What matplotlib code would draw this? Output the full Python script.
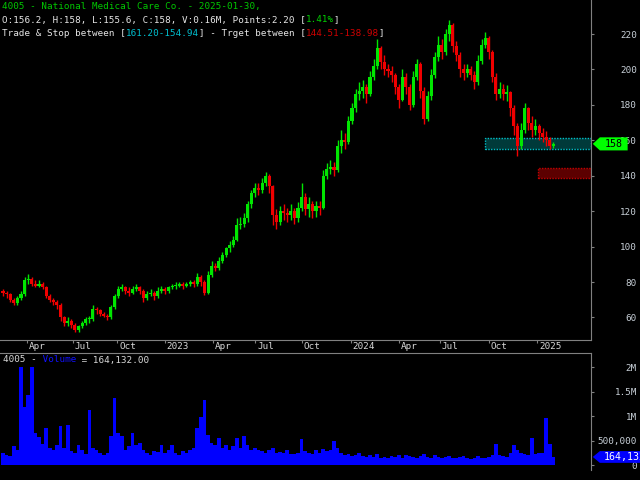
import matplotlib
matplotlib.use("Agg")
import matplotlib.pyplot as plt
from matplotlib.patches import Polygon, Rectangle
from matplotlib.transforms import blended_transform_factory

# weekly candles (4005 - National Medical Care Co.)
opens = [75, 74, 73, 70, 68, 71, 73, 81, 82, 79,
         78, 79, 77, 72, 70, 69, 67, 60, 57, 58,
         56, 53, 55, 57, 59, 59, 65, 64, 62, 61,
         60, 66, 72, 76, 77, 75, 74, 76, 77, 75,
         71, 73, 74, 72, 75, 76, 75, 77, 78, 78,
         79, 78, 79, 80, 79, 83, 80, 74, 84, 89,
         88, 92, 95, 99, 101, 104, 112, 113, 116, 124,
         130, 133, 132, 136, 140, 134, 118, 114, 120, 119,
         118, 120, 116, 122, 128, 121, 124, 120, 123, 122,
         140, 144, 145, 143, 157, 160, 159, 171, 178, 186,
         188, 190, 186, 196, 202, 212, 204, 200, 199, 197,
         190, 183, 196, 190, 180, 196, 203, 188, 172, 185,
         197, 207, 214, 210, 220, 225, 213, 208, 200, 198,
         200, 197, 193, 205, 214, 218, 210, 196, 186, 189,
         186, 187, 178, 168, 157, 166, 178, 170, 166, 168,
         164, 162, 160, 157]
highs = [76, 75, 74, 71, 72, 75, 83, 84.5, 83, 81,
         81, 80, 78, 73, 71, 70, 68, 61, 60, 59,
         57, 56, 58, 60, 61, 67, 66, 65, 63, 62,
         67, 73, 78, 79, 78, 77, 78, 79, 78, 76,
         75, 76, 75, 77, 78, 77, 78, 79, 80, 80,
         80, 80, 81, 81, 85, 84, 81, 86, 92, 91,
         94, 97, 100, 103, 106, 116, 117, 119, 126, 132,
         136, 136, 139, 142, 141, 135, 121, 123, 124, 122,
         124, 122, 125, 136, 130, 128, 126, 126, 126, 143,
         147, 149, 148, 160, 166, 164, 174, 181, 189, 193,
         194, 192, 199, 206, 217, 213, 208, 203, 202, 198,
         192, 200, 198, 192, 199, 206, 204, 190, 188, 200,
         210, 219, 217, 223, 228, 226, 216, 210, 203, 203,
         202, 199, 208, 217, 221, 219, 211, 198, 193, 192,
         191, 188, 180, 170, 170, 181, 179, 174, 172, 169,
         167, 165, 162, 159]
lows = [72, 71, 69, 67, 67, 70, 72, 79, 78, 77,
        77, 76, 71, 69, 67, 65, 58, 55, 55, 54,
        52, 52, 54, 56, 57, 58, 62, 61, 60, 58.5,
        59, 65, 71, 75, 73, 72, 73, 75, 73, 69,
        70, 72, 70, 71, 74, 73, 74, 76, 76, 77,
        76, 77, 78, 77, 78, 78, 72.5, 73, 83, 86,
        87, 91, 94, 97, 100, 103, 110, 111, 114, 122,
        128, 129, 130, 134, 130, 112, 110, 112, 115, 114,
        115, 113, 114, 120, 118, 117, 116, 117, 118, 121,
        138, 141, 140, 142, 153, 155, 158, 169, 176, 183,
        184, 181, 185, 194, 200, 200, 197, 196, 193, 186,
        178, 182, 186, 177, 179, 194, 184, 169, 171, 183,
        195, 205, 206, 208, 216, 210, 205, 196, 194, 196,
        194, 189, 191, 203, 212, 206, 193, 183, 184, 183,
        182, 174, 163, 151, 155, 164, 166, 162, 163, 160,
        159, 157, 155, 155.6]
closes = [74, 73, 70, 68, 71, 73, 81, 82, 79, 78,
          79, 77, 72, 70, 69, 67, 60, 57, 58, 56,
          53, 55, 57, 59, 59, 65, 64, 62, 61, 60,
          66, 72, 76, 77, 75, 74, 76, 77, 75, 71,
          73, 74, 72, 75, 76, 75, 77, 78, 78, 79,
          78, 79, 80, 79, 83, 80, 74, 84, 89, 88,
          92, 95, 99, 101, 104, 112, 113, 116, 124, 130,
          133, 132, 136, 140, 134, 118, 114, 120, 119, 118,
          120, 116, 122, 128, 121, 124, 120, 123, 122, 140,
          144, 145, 143, 157, 160, 159, 171, 178, 186, 188,
          190, 186, 196, 202, 212, 204, 200, 199, 197, 190,
          183, 196, 190, 180, 196, 203, 188, 172, 185, 197,
          207, 214, 210, 220, 225, 213, 208, 200, 198, 200,
          197, 193, 205, 214, 218, 210, 196, 186, 189, 186,
          187, 178, 168, 157, 166, 178, 170, 166, 168, 164,
          162, 160, 157, 158]
volumes_k = [250, 200, 180, 380, 300, 2000, 1190, 1430, 2000, 650,
             570, 420, 750, 350, 300, 400, 800, 350, 820, 280,
             250, 410, 300, 220, 1120, 350, 300, 250, 200, 250,
             600, 1370, 650, 600, 300, 380, 650, 400, 450, 300,
             250, 200, 280, 260, 410, 250, 300, 410, 250, 200,
             280, 250, 300, 350, 750, 980, 1330, 620, 450, 400,
             550, 350, 400, 300, 380, 560, 350, 600, 400, 300,
             350, 300, 280, 250, 300, 350, 250, 260, 240, 300,
             230, 220, 250, 530, 280, 240, 230, 300, 250, 330,
             280, 300, 500, 350, 250, 200, 220, 180, 200, 250,
             180, 160, 200, 170, 220, 150, 170, 140, 190, 160,
             200, 150, 210, 180, 160, 150, 190, 220, 170, 150,
             200, 160, 150, 170, 190, 150, 140, 160, 180, 150,
             130, 150, 180, 150, 140, 160, 200, 420, 200, 180,
             160, 250, 400, 300, 250, 220, 200, 560, 220, 250,
             250, 950, 420, 164.132]

# date axis labels (positions in candle index units)
date_ticks = [6.67, 19.37, 31.77, 44.94, 58.28, 70.04, 83.02, 96.64,
              110.06, 121.37, 134.99, 148.5]
date_labels = ["Apr", "Jul", "Oct", "2023", "Apr", "Jul", "Oct", "2024",
               "Apr", "Jul", "Oct", "2025"]
price_ticks = [60, 80, 100, 120, 140, 160, 180, 200, 220]
vol_ticks = [0, 500000, 1000000, 1500000, 2000000]
vol_labels = ["0", "500,000", "1M", "1.5M", "2M"]

last_price = 158
last_volume = 164132
trade_zone = (154.94, 161.20)
target_zone = (138.98, 144.51)
trade_start = 133.96
target_start = 148.7

UP = "#00e600"
DOWN = "#f00000"
GRID = "#808080"
LABEL = "#c8d0d8"
FS = 6.7

plt.rcParams["font.family"] = ["DejaVu Sans Mono"]

fig = plt.figure(figsize=(6.4, 4.8), dpi=100, facecolor="black")
ax = fig.add_axes([0, 140 / 480, 591 / 640, 340 / 480], facecolor="black")
vax = fig.add_axes([0, 10 / 480, 591 / 640, 117 / 480], facecolor="black")

xs = list(range(len(closes)))
xlim = (-0.834, 163.43)

# ---- candles
up_x, up_b, up_h, dn_x, dn_b, dn_h = [], [], [], [], [], []
for i, (o, h, l, c) in enumerate(zip(opens, highs, lows, closes)):
    col = UP if c >= o else DOWN
    ax.vlines(i, l, h, color=col, linewidth=1.0, zorder=3)
    body = max(abs(c - o), 0.5)
    if c >= o:
        up_x.append(i); up_b.append(min(o, c)); up_h.append(body)
    else:
        dn_x.append(i); dn_b.append(min(o, c)); dn_h.append(body)
ax.bar(up_x, up_h, bottom=up_b, width=0.85, color=UP, linewidth=0, zorder=4)
ax.bar(dn_x, dn_h, bottom=dn_b, width=0.85, color=DOWN, linewidth=0, zorder=4)

# ---- zones
ax.add_patch(Rectangle((trade_start, trade_zone[0]), xlim[1] - trade_start,
                       trade_zone[1] - trade_zone[0], facecolor="#003a3a",
                       edgecolor="#00c0c8", linestyle=(0, (1, 1)), linewidth=1, zorder=2))
ax.add_patch(Rectangle((target_start, target_zone[0]), xlim[1] - target_start,
                       target_zone[1] - target_zone[0], facecolor="#5c0000",
                       edgecolor="#c00000", linestyle=(0, (1, 1)), linewidth=1, zorder=2))

ax.set_xlim(*xlim)
ax.set_ylim(47.3, 239.2)

for a in (ax, vax):
    for s in a.spines.values():
        s.set_visible(False)
    a.spines["right"].set_visible(True)
    a.spines["right"].set_color(GRID)
    a.spines["right"].set_linewidth(0.8)
ax.spines["bottom"].set_visible(True)
ax.spines["bottom"].set_color(GRID)
ax.spines["bottom"].set_linewidth(0.8)
vax.spines["top"].set_visible(True)
vax.spines["top"].set_color(GRID)
vax.spines["top"].set_linewidth(0.8)

ax.yaxis.tick_right()
ax.set_yticks(price_ticks)
ax.set_yticklabels([str(t) for t in price_ticks])
ax.tick_params(axis="y", length=2.2, color=GRID, pad=31, labelcolor=LABEL, labelsize=FS)
for lbl in ax.get_yticklabels():
    lbl.set_horizontalalignment("right")

ax.set_xticks(date_ticks)
ax.set_xticklabels([])
ax.tick_params(axis="x", length=2.2, color=GRID, direction="out")
xtr = ax.get_xaxis_transform()
for pos, lab in zip(date_ticks, date_labels):
    ax.annotate(lab, xy=(pos, 0), xycoords=xtr, xytext=(1.5, -5.0),
                textcoords="offset points", ha="left", va="center",
                color="#d8d8d8", fontsize=FS, annotation_clip=False)

# ---- last price marker
btr = blended_transform_factory(ax.transAxes, ax.transData)
ax.add_patch(Polygon([(1.003, last_price), (1.015, last_price + 3.7), (1.062, last_price + 3.7),
                      (1.062, last_price - 3.7), (1.015, last_price - 3.7)],
                     closed=True, transform=btr, facecolor="#00ff00", edgecolor="none",
                     clip_on=False, zorder=6))
ax.text(1.038, last_price, str(last_price), transform=btr, ha="center", va="center",
        color="black", fontsize=FS + 0.5, zorder=7, clip_on=False)


# ---- header texts
def colored_line(axis, x, y, parts):
    t = axis.text(x, y, parts[0][0], color=parts[0][1], transform=axis.transAxes,
                  ha="left", va="center", fontsize=FS, zorder=10)
    for s, c in parts[1:]:
        t = axis.annotate(s, xy=(1, 0), xycoords=t, color=c, ha="left",
                          va="bottom", fontsize=FS, zorder=10)
    return t


WHITE = "#e6e6e6"
colored_line(ax, 2 / 591, 1 - 7 / 340,
             [("4005 - National Medical Care Co. - 2025-01-30,", "#00c800")])
colored_line(ax, 2 / 591, 1 - 20 / 340,
             [("O:156.2, H:158, L:155.6, C:158, V:0.16M, Points:2.20 [", WHITE),
              ("1.41%", "#00d000"), ("]", WHITE)])
colored_line(ax, 2 / 591, 1 - 33 / 340,
             [("Trade & Stop between [", WHITE), ("161.20-154.94", "#00c0d0"),
              ("] - Trget between [", WHITE), ("144.51-138.98", "#d00000"), ("]", WHITE)])

# ---- volume panel
vax.bar(xs, [v * 1000 for v in volumes_k], width=1.0, color="#0000ff", linewidth=0, zorder=3)
vax.set_xlim(*xlim)
vax.set_ylim(-102000, 2286000)
vax.set_xticks([])
vax.yaxis.tick_right()
vax.set_yticks(vol_ticks)
vax.set_yticklabels(vol_labels)
vax.tick_params(axis="y", length=2.2, color=GRID, pad=31, labelcolor=LABEL, labelsize=FS)
for lbl in vax.get_yticklabels():
    lbl.set_horizontalalignment("right")

colored_line(vax, 3 / 591, 1 - 7 / 117,
             [("4005 -", "#d8d8d8"), (" Volume", "#1010ff"), (" = 164,132.00", "#d8d8d8")])

vtr = blended_transform_factory(vax.transAxes, vax.transData)
hv = 120000
vax.add_patch(Polygon([(1.003, last_volume), (1.015, last_volume + hv), (1.09, last_volume + hv),
                       (1.09, last_volume - hv), (1.015, last_volume - hv)],
                      closed=True, transform=vtr, facecolor="#0000ff", edgecolor="none",
                      clip_on=False, zorder=6))
vax.text(1.022, last_volume, "{:,}".format(last_volume), transform=vtr, ha="left",
         va="center", color="white", fontsize=FS + 0.5, zorder=7, clip_on=False)

fig.savefig("out.png", dpi=100, facecolor="black")
